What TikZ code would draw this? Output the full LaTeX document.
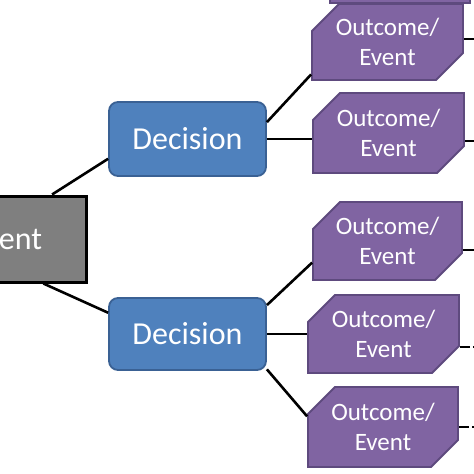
\documentclass[tikz,border=0pt]{standalone}
\usepackage{fontspec}
\setmainfont{Carlito}
\usetikzlibrary{shapes.misc}
\definecolor{purp}{HTML}{8064A2}
\definecolor{purpb}{HTML}{5E4A7E}
\definecolor{blu}{HTML}{4F81BD}
\definecolor{blub}{HTML}{3A6194}
\definecolor{gry}{HTML}{7F7F7F}
\begin{document}
\begin{tikzpicture}[x=1pt,y=-1pt,
 outcome/.style={chamfered rectangle, chamfered rectangle corners={north west,south east},
   chamfered rectangle xsep=14pt, chamfered rectangle ysep=13pt, fill=purp, draw=purpb,
   line width=1.8pt, minimum width=151pt, minimum height=78pt, inner sep=0pt, text=white,
   align=center, font=\fontsize{25}{30}\selectfont},
 decision/.style={rectangle, rounded corners=9pt, fill=blu, draw=blub, line width=1.8pt,
   minimum width=157pt, minimum height=74pt, inner sep=0pt, text=white,
   font=\fontsize{32}{36}\selectfont},
 event/.style={rectangle, fill=gry, draw=black, line width=3pt, minimum width=160pt,
   minimum height=86pt, inner sep=0pt, text=white, font=\fontsize{32}{36}\selectfont},
 link/.style={line width=2.6pt, black},
 dlink/.style={link, dash pattern=on 10pt off 3pt on 2pt off 3pt},
]
\useasboundingbox (0,0) rectangle (474,474);
\clip (0,0) rectangle (474,474);

\node[event] (g) at (6,239) {Event};
\node[decision] (d1) at (187.5,139) {Decision};
\node[decision, minimum height=72pt] (d2) at (187.5,334) {Decision};

\node[outcome, minimum width=140pt] (b0) at (400,-36) {};
\node[outcome, minimum height=76pt] (b1) at (387.5,42) {Outcome/\\Event};
\node[outcome, minimum height=80pt] (b2) at (388.5,133) {Outcome/\\Event};
\node[outcome, minimum width=149pt] (b3) at (387.5,241) {Outcome/\\Event};
\node[outcome] (b4) at (383.5,334) {Outcome/\\Event};
\node[outcome, minimum width=150pt, minimum height=80pt] (b5) at (383,427) {Outcome/\\Event};

\coordinate (r1) at (474,39);
\coordinate (r2) at (474,141);
\coordinate (r3) at (474,250);
\coordinate (r4) at (474,347);
\coordinate (r5) at (474,427);

\draw[link] (g.44) -- (d1.194);
\draw[link] (g.310) -- (d2.165);
\draw[link] (d1.12) -- (b1.203);
\draw[link] (d1.east) -- (d1.east -| b2.west);
\draw[link] (d2.20) -- (b3.196);
\draw[link] (d2.east) -- (d2.east -| b4.west);
\draw[link] (d2.336) -- (b5.172);

\draw[link] (b1.east |- r1) -- (r1);
\draw[link] (b2.east |- r2) -- (r2);
\draw[link] (b3.east |- r3) -- (r3);
\draw[dlink] (b4.east |- r4) -- (r4);
\draw[dlink] (b5.east |- r5) -- (r5);
\end{tikzpicture}
\end{document}
